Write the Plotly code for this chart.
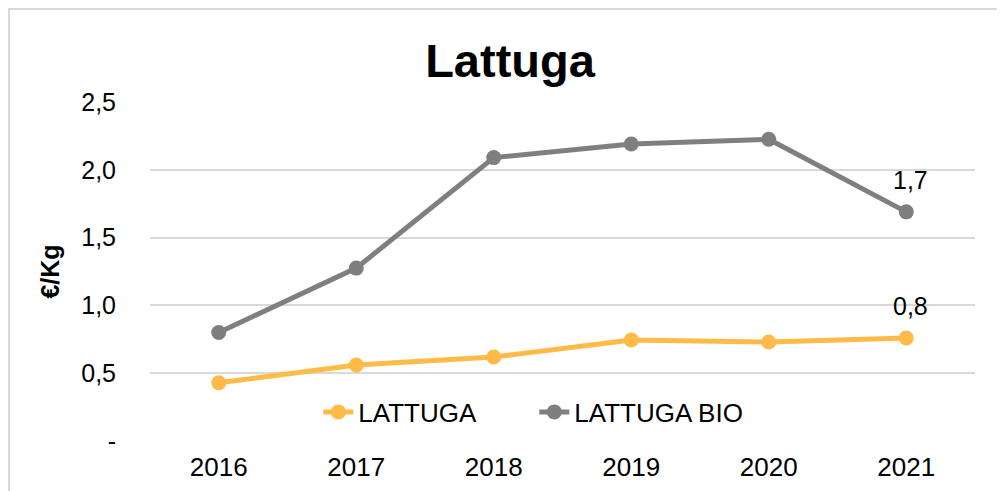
import plotly.graph_objects as go

# Dati
anni = [2016, 2017, 2018, 2019, 2020, 2021]
lattuga = [0.43, 0.56, 0.62, 0.745, 0.73, 0.76]
lattuga_bio = [0.80, 1.275, 2.09, 2.19, 2.225, 1.69]

y_ticks = [0, 0.5, 1.0, 1.5, 2.0, 2.5]
y_tick_labels = ["-", "0,5", "1,0", "1,5", "2,0", "2,5"]

ARANCIO = "#FFBA47"
GRIGIO = "#7F7F7F"
FONT = "Liberation Sans, Arial, sans-serif"

fig = go.Figure()

for nome, valori, colore in [("LATTUGA", lattuga, ARANCIO), ("LATTUGA BIO", lattuga_bio, GRIGIO)]:
    fig.add_trace(go.Scatter(
        x=anni, y=valori, name=nome, mode="lines+markers",
        line=dict(color=colore, width=5),
        marker=dict(color=colore, size=15),
    ))
    # etichetta solo sull'ultimo punto
    fig.add_annotation(
        x=anni[-1], y=valori[-1],
        text=f"{valori[-1]:.1f}".replace(".", ","),
        showarrow=False, yshift=32, xshift=4,
        font=dict(size=25, color="black", family=FONT),
    )

# la pagina ha un margine di 8px: figura 997x483
fig.update_layout(
    width=997, height=483,
    margin=dict(l=142, r=30, t=94, b=50),
    paper_bgcolor="white", plot_bgcolor="white",
    font=dict(family=FONT, size=25, color="black"),
    title=dict(text="<b>Lattuga</b>", x=0.5035, xanchor="center",
               y=0.892, yanchor="middle", font=dict(size=47)),
    showlegend=True,
    legend=dict(orientation="h", x=0.204, xanchor="left", y=0.0855, yanchor="middle",
                entrywidth=171, entrywidthmode="pixels",
                bgcolor="rgba(0,0,0,0)", font=dict(size=26)),
)

fig.update_xaxes(range=[2015.5, 2021.5], tickvals=anni, ticktext=[str(a) for a in anni],
                 showgrid=False, showline=False, zeroline=False, ticks="",
                 ticklabelstandoff=8, tickfont=dict(size=26), automargin=False)
fig.update_yaxes(range=[0, 2.5], tickvals=y_ticks, ticktext=y_tick_labels,
                 showgrid=True, gridcolor="#D9D9D9", gridwidth=2, zeroline=False,
                 showline=False, ticks="", ticklabelstandoff=33,
                 tickfont=dict(size=25), automargin=False,
                 title=dict(text="<b>€/Kg</b>", font=dict(size=25), standoff=14))

# cornice del grafico
fig.add_shape(type="rect", xref="paper", yref="paper",
              x0=-0.1709, x1=1.1, y0=-0.3, y1=1.274,
              line=dict(color="#D9D9D9", width=2), layer="below")

fig.write_html("out.html")
